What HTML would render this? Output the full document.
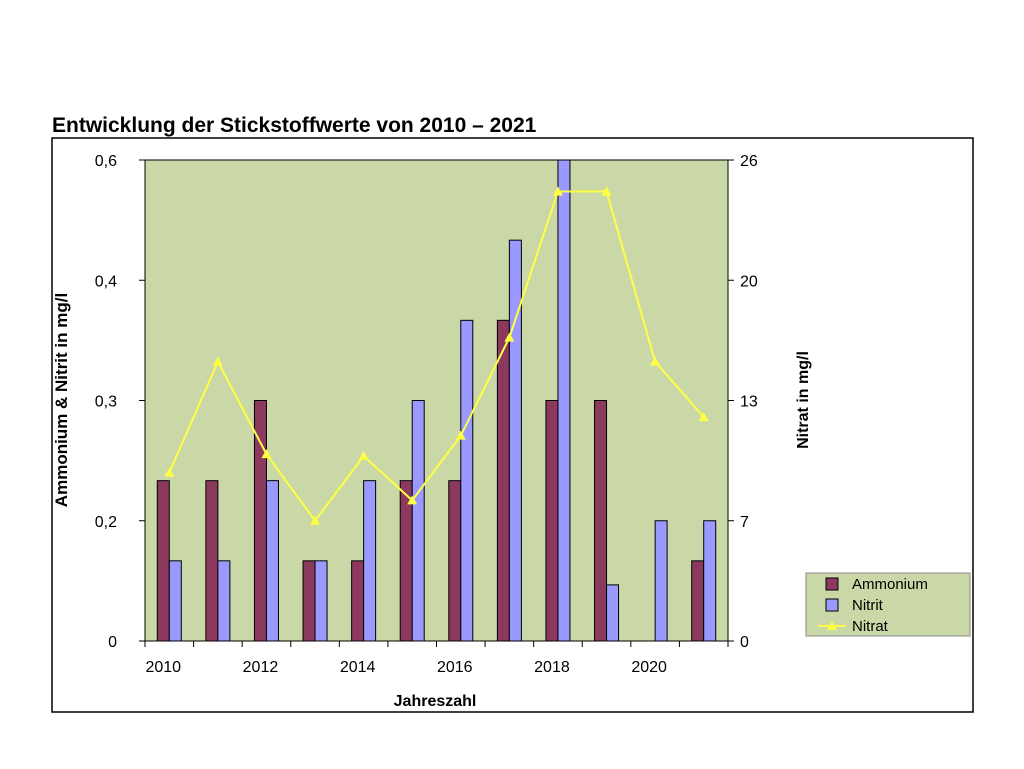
<!DOCTYPE html>
<html><head><meta charset="utf-8"><style>
body{margin:0;background:#fff;}
svg text{font-family:"Liberation Sans",sans-serif;}
</style></head><body>
<svg width="1024" height="764" xmlns="http://www.w3.org/2000/svg">
<text x="52" y="132" font-size="21" font-weight="bold">Entwicklung der Stickstoffwerte von 2010 – 2021</text>
<rect x="52" y="138" width="921" height="574" fill="none" stroke="#000" stroke-width="1.5"/>
<rect x="145" y="160" width="583" height="481" fill="#c9d8a6" stroke="#000"/>
<g id="g"></g>
<text transform="translate(67,400) rotate(-90)" text-anchor="middle" font-size="17" font-weight="bold">Ammonium &amp; Nitrit in mg/l</text>
<text transform="translate(808,400) rotate(-90)" text-anchor="middle" font-size="16" font-weight="bold">Nitrat in mg/l</text>
<text x="435" y="706" text-anchor="middle" font-size="16" font-weight="bold">Jahreszahl</text>
<g>
<rect x="806" y="573" width="164" height="63" fill="#c9d8a6" stroke="#888"/>
<rect x="826" y="578" width="12" height="12" fill="#8b3a5e" stroke="#000"/>
<text x="852" y="589" font-size="15">Ammonium</text>
<rect x="826" y="599" width="12" height="12" fill="#9999ff" stroke="#000"/>
<text x="852" y="610" font-size="15">Nitrit</text>
<line x1="818" y1="626" x2="846" y2="626" stroke="#ffff44" stroke-width="2"/>
<polygon points="832,621 837,630 827,630" fill="#ffff44"/>
<text x="852" y="631" font-size="15">Nitrat</text>
</g>
</svg>
<script>
const years=[2010,2011,2012,2013,2014,2015,2016,2017,2018,2019,2020,2021];
const ammonium=[0.2,0.2,0.3,0.1,0.1,0.2,0.2,0.4,0.3,0.3,0,0.1];
const nitrit=[0.1,0.1,0.2,0.1,0.2,0.3,0.4,0.5,0.6,0.07,0.15,0.15];
const nitrat=[9.1,15.1,10.1,6.5,10,7.6,11.1,16.4,24.3,24.3,15.1,12.1];
const leftTicks=["0","0,2","0,3","0,4","0,6"];
const rightTicks=["0","7","13","20","26"];
const xLabels=["2010","2012","2014","2016","2018","2020"];
const NS="http://www.w3.org/2000/svg";
const g=document.getElementById('g');
const X0=145,W=583,Y0=641,H=481;
const cw=W/years.length;
const yL=v=>Y0-v/0.6*H;
const yR=v=>Y0-v/26*H;
const xc=i=>X0+cw*(i+0.5);
function mk(t,a){const e=document.createElementNS(NS,t);for(const k in a)e.setAttribute(k,a[k]);g.appendChild(e);return e;}
leftTicks.forEach((t,i)=>{const y=Y0-i*H/4;
 mk('line',{x1:X0-6,y1:y,x2:X0,y2:y,stroke:'#000'});
 let e=mk('text',{x:117,y:y+6,'text-anchor':'end','font-size':16});e.textContent=t;
 
 
 mk('line',{x1:X0+W,y1:y,x2:X0+W+6,y2:y,stroke:'#000'});
 let r=mk('text',{x:740,y:y+6,'font-size':16});r.textContent=rightTicks[i];
 
 
});
for(let i=0;i<=years.length;i++)mk('line',{x1:X0+cw*i,y1:Y0,x2:X0+cw*i,y2:Y0+6,stroke:'#000'});
xLabels.forEach((t,i)=>{let e=mk('text',{x:xc(i*2)-6,y:672,'text-anchor':'middle','font-size':16});e.textContent=t;
 
 });
years.forEach((yr,i)=>{
 const c=xc(i);
 if(ammonium[i]>0){let b=mk('rect',{x:c-12,y:yL(ammonium[i]),width:12,height:Y0-yL(ammonium[i]),fill:'#8b3a5e',stroke:'#000','stroke-width':1});
 
 }
 if(nitrit[i]>0){let b=mk('rect',{x:c,y:yL(nitrit[i]),width:12,height:Y0-yL(nitrit[i]),fill:'#9999ff',stroke:'#000','stroke-width':1});
 
 }
});
const pl=mk('polyline',{points:nitrat.map((v,i)=>xc(i)+','+yR(v)).join(' '),fill:'none',stroke:'#ffff44','stroke-width':2});


nitrat.forEach((v,i)=>{const x=xc(i),y=yR(v);
 let p=mk('polygon',{points:`${x},${y-5} ${x+5},${y+4} ${x-5},${y+4}`,fill:'#ffff44'});
 
 });
</script>
</body></html>
